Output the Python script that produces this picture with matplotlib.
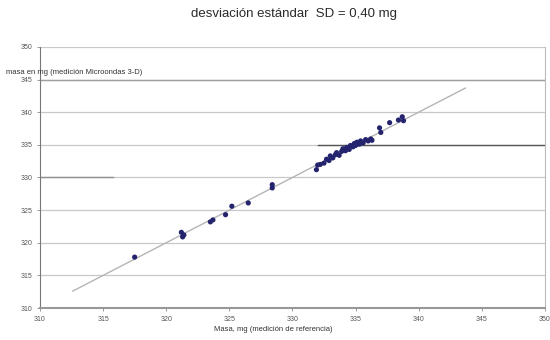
import numpy as np
import matplotlib.pyplot as plt

plt.rcParams['font.family'] = ['Liberation Sans', 'DejaVu Sans']

# masa de referencia (x) y masa Microondas 3-D (y), mg
ref_mg = [317.5, 321.2, 321.3, 321.4, 323.5, 323.7, 324.7, 325.2, 326.5, 328.4, 328.4,
          331.9, 332.0, 332.2, 332.5, 332.7, 332.9, 333.0, 333.2, 333.4, 333.5, 333.7,
          333.9, 334.0, 334.2, 334.3, 334.5, 334.6, 334.8, 334.9, 335.0, 335.1, 335.3,
          335.4, 335.6, 335.8, 336.0, 336.2, 336.3, 336.9, 337.0, 337.7, 338.4, 338.7, 338.8]
micro_mg = [317.8, 321.6, 320.9, 321.2, 323.2, 323.5, 324.3, 325.6, 326.1, 328.4, 328.9,
            331.2, 331.9, 332.0, 332.2, 332.8, 332.6, 333.3, 333.0, 333.5, 333.8, 333.4,
            334.0, 334.4, 334.1, 334.6, 334.3, 334.9, 334.7, 335.2, 334.9, 335.4, 335.1,
            335.6, 335.3, 335.8, 335.6, 335.9, 335.7, 337.6, 336.9, 338.4, 338.8, 339.3, 338.7]
line_x = [312.6, 343.7]
ticks = [310, 315, 320, 325, 330, 335, 340, 345, 350]

fig = plt.figure(figsize=(5.5, 3.4), dpi=100)
ax = fig.add_axes([0.0727, 0.094, 0.918, 0.768])

ax.set_xlim(310, 350)
ax.set_ylim(310, 350)
ax.set_xticks(ticks)
ax.set_yticks(ticks)
ax.tick_params(labelsize=5, colors='#888888', length=2, width=0.6)
for lab in ax.get_xticklabels() + ax.get_yticklabels():
    lab.set_color('#555555')

ax.grid(axis='y', color='#c8c8c8', linewidth=0.9)
ax.set_axisbelow(True)
# darker scan lines
ax.axhline(345, color='#a0a0a0', linewidth=1.0, zorder=1)
ax.axhline(335, xmin=0.55, xmax=1.0, color='#555555', linewidth=1.0, zorder=1)
ax.axhline(330, xmin=0.0, xmax=0.145, color='#909090', linewidth=1.0, zorder=1)

ax.spines['top'].set_visible(False)
ax.spines['left'].set_color('#777777')
ax.spines['bottom'].set_color('#999999')
ax.spines['bottom'].set_linewidth(1.5)
ax.spines['right'].set_color('#bbbbbb')

ax.plot(line_x, line_x, color='#b5b5b5', linewidth=1.0, zorder=2)
ax.scatter(ref_mg, micro_mg, s=14, color='#24246e', edgecolors='none', zorder=3)

fig.text(0.535, 0.958, 'desviación estándar  SD = 0,40 mg', ha='center', va='center',
         fontsize=9.5, color='#2a2a2a')
fig.text(0.01, 0.788, 'masa en mg (medición Microondas 3-D)', ha='left', va='center',
         fontsize=5.5, color='#333333')
fig.text(0.39, 0.03, 'Masa, mg (medición de referencia)', ha='left', va='center',
         fontsize=5.5, color='#333333')

fig.savefig('out.png', dpi=100)
